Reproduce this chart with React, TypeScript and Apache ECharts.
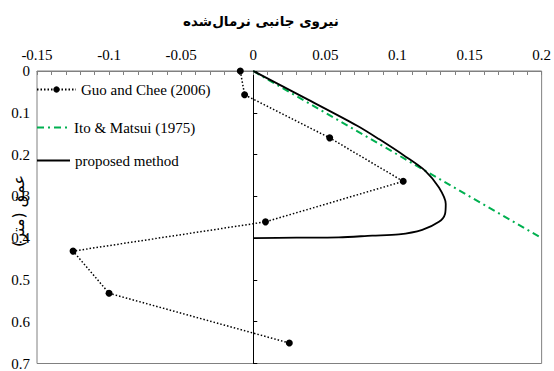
import React, { useEffect, useRef } from "react";
import * as echarts from "echarts";

const titleText = "نیروی جانبی نرمال‌شده";
const yName = "عمق (متر)";

const guoX = [-0.009, -0.006, 0.053, 0.104, 0.0085, -0.125, -0.1, 0.025];
const guoY = [0.0, 0.057, 0.16, 0.264, 0.361, 0.431, 0.532, 0.651];

const itoX = [0, 0.2];
const itoY = [0, 0.4];

const propX = [0, 0.036, 0.0721, 0.0872, 0.1057, 0.1196, 0.1288, 0.1335, 0.133, 0.1288, 0.1172, 0.101, 0.0825, 0.0594, 0.03, 0];
const propY = [0, 0.065, 0.131, 0.163, 0.205, 0.24, 0.279, 0.318, 0.342, 0.361, 0.38, 0.391, 0.394, 0.398, 0.399, 0.4];

const zip = (a: number[], b: number[]) => a.map((v, i) => [v, b[i]]);

const serif = "Liberation Serif";

export default function App() {
  const ref = useRef<HTMLDivElement>(null);
  useEffect(() => {
    if (!ref.current) return;
    const chart = echarts.init(ref.current, null, { renderer: "svg" });
    const legendText = { fontFamily: serif, fontSize: 15, color: "#000" };
    chart.setOption({
      animation: false,
      title: {
        text: titleText,
        left: 256,
        textAlign: "center",
        top: 9,
        textStyle: { fontFamily: "DejaVu Sans", fontSize: 13.5, fontWeight: "bold", color: "#000" },
      },
      legend: [
        { data: ["Guo and Chee (2006)"], left: 36, top: 82, padding: 0, itemWidth: 39, itemHeight: 8, textStyle: legendText, selectedMode: false },
        { data: [{ name: "Ito & Matsui (1975)", itemStyle: { opacity: 0 } }], left: 36, top: 120, padding: 0, itemWidth: 32, itemHeight: 8, textStyle: legendText, selectedMode: false },
        { data: [{ name: "proposed method", itemStyle: { opacity: 0 } }], left: 36, top: 153, padding: 0, itemWidth: 33, itemHeight: 8, textStyle: legendText, selectedMode: false },
      ],
      grid: { left: 37, right: 11, top: 71, bottom: 0, show: true, borderColor: "#808080", borderWidth: 1 },
      xAxis: {
        type: "value",
        position: "top",
        min: -0.15,
        max: 0.2,
        interval: 0.05,
        axisLine: { onZero: false, lineStyle: { color: "#808080", width: 1 } },
        axisTick: { inside: true, length: 4, lineStyle: { color: "#808080" } },
        minorTick: { show: true, splitNumber: 5, length: 4, lineStyle: { color: "#808080" } },
        splitLine: { show: false },
        axisLabel: { fontFamily: serif, fontSize: 15, color: "#000", margin: 9, formatter: (v: number) => String(parseFloat(v.toFixed(2))) },
      },
      yAxis: {
        type: "value",
        inverse: true,
        min: 0,
        max: 0.7,
        interval: 0.1,
        axisLine: { show: true, onZero: true, lineStyle: { color: "#000", width: 1 } },
        axisTick: { inside: true, length: 4, lineStyle: { color: "#000" } },
        splitLine: { show: false },
        axisLabel: { fontFamily: serif, fontSize: 15, color: "#000", margin: 7, formatter: (v: number) => String(parseFloat(v.toFixed(1))) },
      },
      graphic: [
        {
          type: "text",
          x: 18,
          y: 211,
          rotation: Math.PI / 2,
          style: {
            text: yName,
            fontFamily: "DejaVu Sans",
            fontSize: 16,
            fontWeight: "normal",
            fill: "#000",
            align: "center",
            verticalAlign: "middle",
          },
        },
      ],
      series: [
        {
          name: "Guo and Chee (2006)",
          type: "line",
          data: zip(guoX, guoY),
          symbol: "circle",
          symbolSize: 7,
          itemStyle: { color: "#000" },
          lineStyle: { color: "#000", width: 1.5, type: [1.5, 2] },
          z: 3,
        },
        {
          name: "Ito & Matsui (1975)",
          type: "line",
          data: zip(itoX, itoY),
          symbol: "none",
          itemStyle: { color: "#00B050" },
          lineStyle: { color: "#00B050", width: 2, type: [7, 4, 2, 4] },
          z: 2,
        },
        {
          name: "proposed method",
          type: "line",
          data: zip(propX, propY),
          symbol: "none",
          smooth: 0.3,
          itemStyle: { color: "#000" },
          lineStyle: { color: "#000", width: 1.8 },
          z: 2,
        },
      ],
    });
    return () => chart.dispose();
  }, []);
  return <div ref={ref} style={{ width: 554, height: 371, position: "absolute", left: 0, top: 0 }} />;
}
